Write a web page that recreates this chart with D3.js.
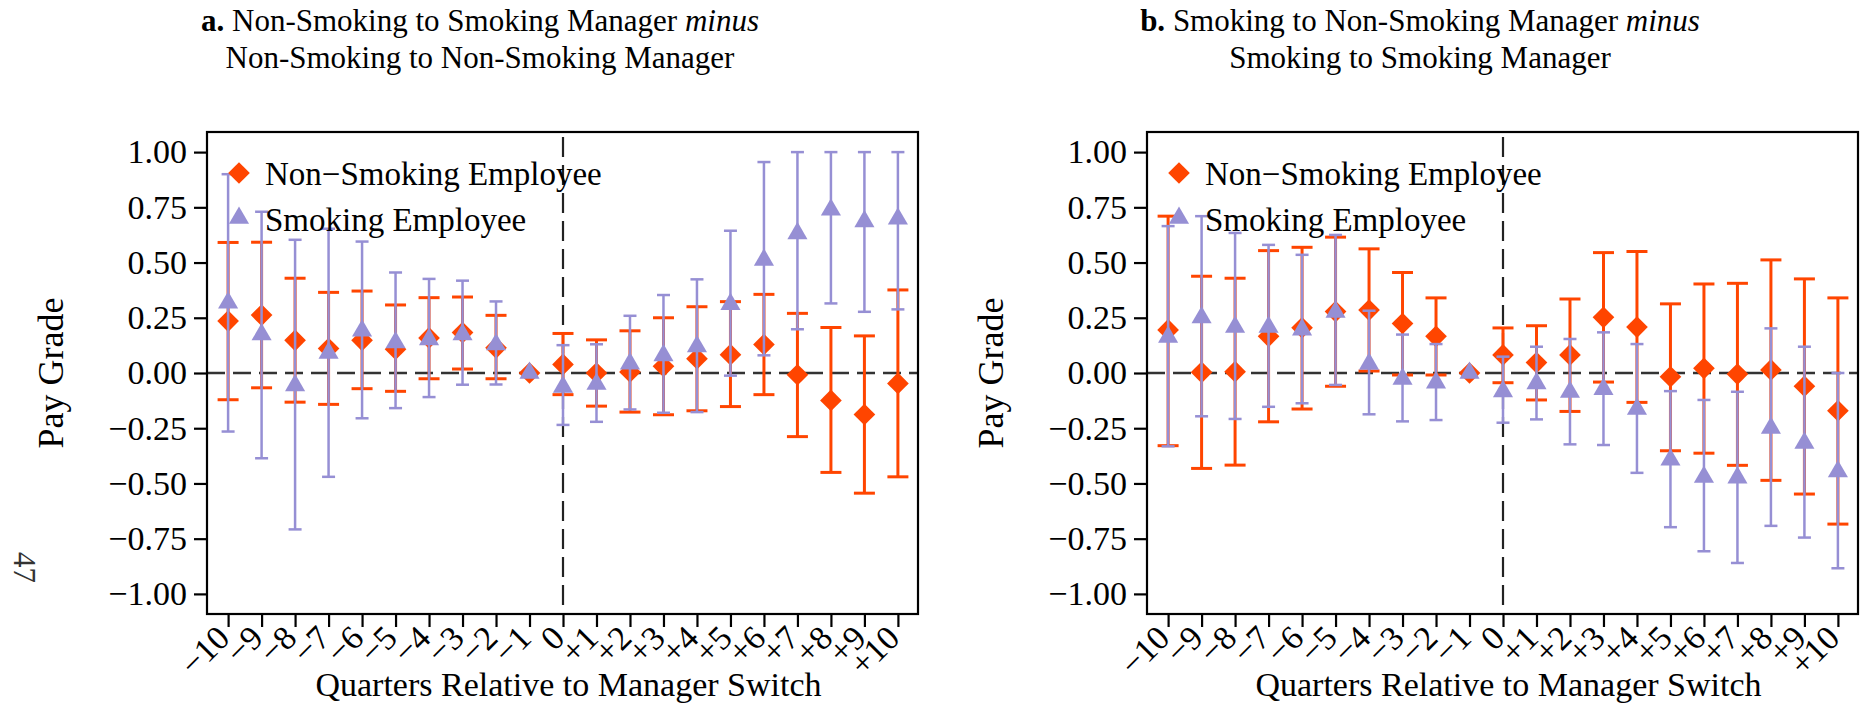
<!DOCTYPE html>
<html lang="en">

<head>
    <meta charset="UTF-8">
    <title>Pay grade around manager switch</title>
    <script src="https://d3js.org/d3.v7.min.js"></script>
    <style>
        body {
            margin: 0;
            background: #fff;
        }

        svg {
            display: block;
        }

        svg text {
            font-family: "Liberation Serif", "DejaVu Serif", serif;
        }
    </style>
</head>

<body>
    <svg width="1866" height="709"></svg>

    <script>
        // quarters relative to the switch and their tick labels
        const quarters = d3.range(-10, 11);
        const quarterLabels = ["\u221210", "\u22129", "\u22128", "\u22127", "\u22126", "\u22125", "\u22124", "\u22123", "\u22122", "\u22121",
            "0", "+1", "+2", "+3", "+4", "+5", "+6", "+7", "+8", "+9", "+10"];
        const yTicks = [1, 0.75, 0.5, 0.25, 0, -0.25, -0.5, -0.75, -1];
        const seriesNames = ["Non\u2212Smoking Employee", "Smoking Employee"];

        // panel a: non-smoking -> smoking manager minus non-smoking -> non-smoking manager
        const aNonEst = [0.235, 0.262, 0.148, 0.111, 0.148, 0.108, 0.159, 0.183, 0.114, 0, 0.039, 0.000, 0.005, 0.030, 0.065, 0.083, 0.129, -0.008, -0.124, -0.188, -0.047];
        const aNonLo = [-0.121, -0.067, -0.132, -0.142, -0.071, -0.083, -0.026, 0.018, -0.026, null, -0.098, -0.150, -0.177, -0.189, -0.171, -0.152, -0.098, -0.288, -0.450, -0.544, -0.470];
        const aNonHi = [0.591, 0.592, 0.429, 0.365, 0.371, 0.308, 0.341, 0.344, 0.261, null, 0.179, 0.150, 0.191, 0.250, 0.300, 0.323, 0.356, 0.270, 0.206, 0.168, 0.376];
        const aSmkEst = [0.318, 0.174, -0.056, 0.091, 0.191, 0.138, 0.152, 0.174, 0.129, 0, -0.063, -0.050, 0.042, 0.080, 0.120, 0.312, 0.512, 0.632, 0.739, 0.686, 0.698];
        const aSmkLo = [-0.265, -0.386, -0.708, -0.470, -0.205, -0.159, -0.109, -0.053, -0.052, null, -0.235, -0.221, -0.165, -0.180, -0.177, -0.012, 0.080, 0.198, 0.315, 0.277, 0.288];
        const aSmkHi = [0.900, 0.730, 0.603, 0.653, 0.595, 0.455, 0.426, 0.418, 0.324, null, 0.126, 0.130, 0.259, 0.353, 0.424, 0.644, 0.955, 1.000, 1.000, 1.000, 1.000];

        // panel b: smoking -> non-smoking manager minus smoking -> smoking manager
        const bNonEst = [0.195, 0.003, 0.006, 0.166, 0.205, 0.278, 0.285, 0.224, 0.166, 0, 0.082, 0.047, 0.082, 0.252, 0.208, -0.017, 0.021, -0.005, 0.014, -0.060, -0.171];
        const bNonLo = [-0.329, -0.432, -0.417, -0.221, -0.163, -0.060, 0.009, -0.009, -0.009, null, -0.044, -0.122, -0.174, -0.041, -0.133, -0.352, -0.363, -0.418, -0.486, -0.548, -0.684];
        const bNonHi = [0.710, 0.438, 0.429, 0.554, 0.569, 0.615, 0.562, 0.455, 0.340, null, 0.204, 0.214, 0.335, 0.545, 0.550, 0.313, 0.403, 0.406, 0.512, 0.426, 0.340];
        const bSmkEst = [0.163, 0.251, 0.208, 0.208, 0.196, 0.276, 0.041, -0.027, -0.044, 0, -0.083, -0.047, -0.086, -0.073, -0.163, -0.393, -0.471, -0.474, -0.249, -0.317, -0.446];
        const bSmkLo = [-0.332, -0.196, -0.208, -0.153, -0.137, -0.054, -0.187, -0.219, -0.213, null, -0.225, -0.210, -0.323, -0.326, -0.452, -0.698, -0.807, -0.860, -0.692, -0.745, -0.884];
        const bSmkHi = [0.665, 0.710, 0.634, 0.580, 0.535, 0.625, 0.282, 0.174, 0.131, null, 0.074, 0.119, 0.154, 0.184, 0.131, -0.082, -0.122, -0.085, 0.202, 0.119, 0.000];

        const orange = "#ff4500";
        const purple = "#968fd4";

        const svg = d3.select("svg");

        // page number in the margin
        svg.append("text")
            .attr("transform", "translate(14,552) rotate(90)")
            .attr("font-size", 31)
            .attr("fill", "#333")
            .text("47");

        function rows(est, lo, hi) {
            return quarters.map((q, i) => ({ q: q, est: est[i], lo: lo[i], hi: hi[i] }));
        }

        const diamond = d3.symbol(d3.symbolSquare, 235)();
        const triangle = d3.symbol(d3.symbolTriangle, 175)();

        function drawPanel(left, titleBold, titleLine1, titleLine2, non, smk) {
            const top = 132, bottom = 614, right = left + 711;

            var x = d3.scaleLinear().domain([-10.63, 10.6]).range([left, right]);
            var y = d3.scaleLinear().domain([-1.091, 1.091]).range([bottom, top]);

            const g = svg.append("g");

            // title
            const tx = left + 273;
            const t1 = g.append("text").attr("x", tx).attr("y", 31)
                .attr("text-anchor", "middle").attr("font-size", 31);
            t1.append("tspan").attr("font-weight", "bold").text(titleBold + " ");
            t1.append("tspan").text(titleLine1 + " ");
            t1.append("tspan").attr("font-style", "italic").text("minus");
            g.append("text").attr("x", tx).attr("y", 68)
                .attr("text-anchor", "middle").attr("font-size", 31)
                .text(titleLine2);

            // reference lines
            g.append("line")
                .attr("x1", left).attr("x2", right)
                .attr("y1", y(0)).attr("y2", y(0))
                .attr("stroke", "#333").attr("stroke-width", 2.6)
                .attr("stroke-dasharray", "18,8");
            g.append("line")
                .attr("x1", x(0)).attr("x2", x(0))
                .attr("y1", top + 5).attr("y2", bottom)
                .attr("stroke", "#222").attr("stroke-width", 2.2)
                .attr("stroke-dasharray", "20,8");

            // error bars + markers, one series at a time
            function series(data, color, capW, lw, symbol, turn) {
                const s = g.append("g");
                const ci = data.filter(d => d.lo !== null);
                s.selectAll(".bar").data(ci).join("line")
                    .attr("x1", d => x(d.q)).attr("x2", d => x(d.q))
                    .attr("y1", d => y(d.lo)).attr("y2", d => y(d.hi))
                    .attr("stroke", color).attr("stroke-width", lw);
                s.selectAll(".capHi").data(ci).join("line")
                    .attr("x1", d => x(d.q) - capW / 2).attr("x2", d => x(d.q) + capW / 2)
                    .attr("y1", d => y(d.hi)).attr("y2", d => y(d.hi))
                    .attr("stroke", color).attr("stroke-width", lw);
                s.selectAll(".capLo").data(ci).join("line")
                    .attr("x1", d => x(d.q) - capW / 2).attr("x2", d => x(d.q) + capW / 2)
                    .attr("y1", d => y(d.lo)).attr("y2", d => y(d.lo))
                    .attr("stroke", color).attr("stroke-width", lw);
                s.selectAll("path").data(data).join("path")
                    .attr("d", symbol)
                    .attr("transform", d => "translate(" + x(d.q) + "," + y(d.est) + ")" + turn)
                    .attr("fill", color);
            }
            series(non, orange, 21, 3, diamond, " rotate(45)");
            series(smk, purple, 13, 2.5, triangle, "");

            // frame
            g.append("rect")
                .attr("x", left).attr("y", top)
                .attr("width", right - left).attr("height", bottom - top)
                .attr("fill", "none").attr("stroke", "#000").attr("stroke-width", 2.2);

            // axes
            const yAxis = g.append("g")
                .attr("transform", "translate(" + left + ",0)")
                .call(d3.axisLeft(y).tickValues(yTicks).tickFormat(d3.format(".2f")).tickSize(13).tickPadding(7));
            yAxis.attr("font-family", null).attr("font-size", null);
            yAxis.select(".domain").remove();
            yAxis.selectAll("line").attr("stroke-width", 2.2);
            yAxis.selectAll("text").attr("font-size", 34).attr("fill", "#000");

            const xAxis = g.append("g")
                .attr("transform", "translate(0," + bottom + ")")
                .call(d3.axisBottom(x).tickValues(quarters).tickFormat((d, i) => quarterLabels[i]).tickSize(13));
            xAxis.attr("font-family", null).attr("font-size", null);
            xAxis.select(".domain").remove();
            xAxis.selectAll("line").attr("stroke-width", 2.2);
            xAxis.selectAll("text")
                .attr("y", null).attr("dy", null)
                .attr("text-anchor", "end")
                .attr("transform", "translate(3,26) rotate(-45)")
                .attr("font-size", 34).attr("fill", "#000");

            // axis titles
            g.append("text")
                .attr("transform", "translate(" + (left - 144) + "," + ((top + bottom) / 2) + ") rotate(-90)")
                .attr("text-anchor", "middle").attr("font-size", 36)
                .text("Pay Grade");
            g.append("text")
                .attr("x", (left + right) / 2 + 6).attr("y", 696)
                .attr("text-anchor", "middle").attr("font-size", 34)
                .text("Quarters Relative to Manager Switch");

            // legend
            const lg = g.append("g").attr("transform", "translate(" + (left + 32) + ",0)");
            lg.append("path").attr("d", diamond).attr("transform", "translate(0,173) rotate(45)").attr("fill", orange);
            lg.append("path").attr("d", triangle).attr("transform", "translate(0,218)").attr("fill", purple);
            lg.append("text").attr("x", 26).attr("y", 185).attr("font-size", 33).text(seriesNames[0]);
            lg.append("text").attr("x", 26).attr("y", 231).attr("font-size", 33).text(seriesNames[1]);
        }

        drawPanel(207, "a.", "Non-Smoking to Smoking Manager", "Non-Smoking to Non-Smoking Manager",
            rows(aNonEst, aNonLo, aNonHi), rows(aSmkEst, aSmkLo, aSmkHi));
        drawPanel(1147, "b.", "Smoking to Non-Smoking Manager", "Smoking to Smoking Manager",
            rows(bNonEst, bNonLo, bNonHi), rows(bSmkEst, bSmkLo, bSmkHi));
    </script>
</body>

</html>
